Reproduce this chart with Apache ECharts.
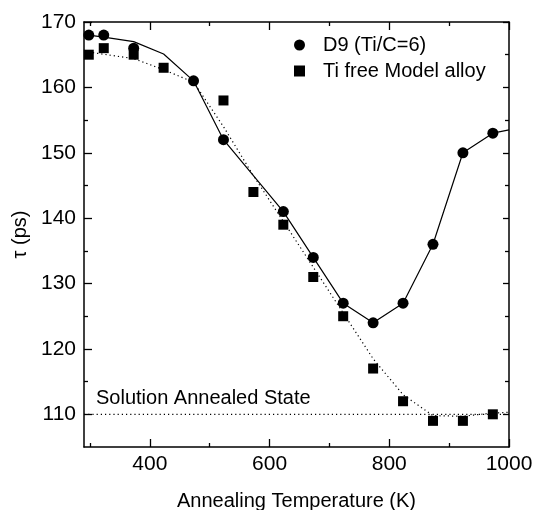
<!DOCTYPE html>
<html>
<head>
<meta charset="utf-8">
<script src="https://cdn.jsdelivr.net/npm/echarts@6/dist/echarts.min.js"></script>
<style>
  html, body { margin: 0; padding: 0; background: #fff; }
  #chart { width: 534px; height: 510px; }
</style>
</head>
<body>
<div id="chart"></div>
<script>
// measured points
var d9Temp = [298, 323, 373, 473, 523, 623, 673, 723, 773, 823, 873, 923, 973];
var d9Tau = [168, 168, 166, 161, 152, 141, 134, 127, 124, 127, 136, 150, 153];
var tiTemp = [298, 323, 373, 423, 523, 573, 623, 673, 723, 773, 823, 873, 923, 973];
var tiTau = [165, 166, 165, 163, 158, 144, 139, 131, 125, 117, 112, 109, 109, 110];
// guide curves drawn through the data
var d9CurveTemp = [298, 323, 373, 423, 473, 523, 623, 673, 723, 773, 823, 873, 923, 973, 1000];
var d9CurveTau = [168, 167.7, 167, 165.1, 161, 152, 141, 134, 127, 124, 127, 136, 150, 153, 153.5];
var tiCurveTemp = [298, 373, 423, 473, 523, 573, 623, 673, 723, 773, 823, 873, 923, 973, 1000];
var tiCurveTau = [165.4, 164.4, 162.7, 160.8, 154, 146.5, 139.5, 132.5, 125.5, 118.5, 113, 109.8, 109.7, 110.2, 110.3];
// solution annealed level
var saTemp = [290, 1000];
var saTau = [110, 110];
// ticks
var xMajor = [400, 600, 800, 1000];
var xMinor = [300, 500, 700, 900];
var yMajor = [110, 120, 130, 140, 150, 160, 170];
var yMinor = [115, 125, 135, 145, 155, 165];

var font = 'Liberation Sans, Arial, sans-serif';

function pairs(xs, ys) {
    return xs.map(function (x, i) { return [x, ys[i]]; });
}

function xAx(pos, ticks, len, show) {
    return {
        type: 'value', min: 290, max: 1000, position: pos,
        axisLine: { show: show, onZero: false, lineStyle: { color: '#000', width: 1.5 } },
        splitLine: { show: false },
        axisTick: { inside: true, length: len, customValues: ticks, lineStyle: { color: '#000', width: 1.3 } },
        axisLabel: { show: false }
    };
}

function yAx(pos, ticks, len, show) {
    return {
        type: 'value', min: 105, max: 170, position: pos,
        axisLine: { show: show, onZero: false, lineStyle: { color: '#000', width: 1.5 } },
        splitLine: { show: false },
        axisTick: { inside: true, length: len, customValues: ticks, lineStyle: { color: '#000', width: 1.3 } },
        axisLabel: { show: false }
    };
}

var xBottom = xAx('bottom', xMajor, 8, true);
xBottom.axisLabel = {
    show: true, customValues: xMajor, fontSize: 21, color: '#000', fontFamily: font, margin: 7,
    formatter: function (v) { return String(v); }
};
xBottom.name = 'Annealing Temperature (K)';
xBottom.nameLocation = 'middle';
xBottom.nameGap = 44;
xBottom.nameTextStyle = { fontSize: 20, color: '#000', fontFamily: font };

var yLeft = yAx('left', yMajor, 8, true);
yLeft.axisLabel = { show: true, customValues: yMajor, fontSize: 21, color: '#000', fontFamily: font, margin: 8 };
yLeft.name = 'τ (ps)';
yLeft.nameLocation = 'middle';
yLeft.nameGap = 46;
yLeft.nameTextStyle = { fontSize: 20, color: '#000', fontFamily: font };

var option = {
    animation: false,
    backgroundColor: '#fff',
    grid: { left: 84, right: 25, top: 22, bottom: 63, containLabel: false, outerBoundsMode: 'none' },
    xAxis: [
        xBottom,
        xAx('bottom', xMinor, 4, false),
        xAx('top', xMajor, 8, true),
        xAx('top', xMinor, 4, false)
    ],
    yAxis: [
        yLeft,
        yAx('left', yMinor, 4, false),
        yAx('right', yMajor, 6, true),
        yAx('right', yMinor, 4, false)
    ],
    legend: {
        orient: 'vertical', left: 289, top: 30,
        itemWidth: 11, itemHeight: 11, itemGap: 6,
        textStyle: { fontSize: 20, color: '#000', fontFamily: font, padding: [0, 0, 0, 13] },
        data: [
            { name: 'D9 (Ti/C=6)', icon: 'circle' },
            { name: 'Ti free Model alloy', icon: 'rect', itemStyle: { color: '#000' } }
        ]
    },
    graphic: [{
        type: 'text', left: 96, top: 388,
        style: { text: 'Solution Annealed State', fontSize: 20, fontFamily: font, fill: '#000' }
    }],
    series: [
        {
            type: 'line', data: pairs(saTemp, saTau), symbol: 'none', silent: true,
            lineStyle: { color: '#000', width: 1.2, type: [1.2, 3] }
        },
        {
            type: 'line', data: pairs(d9CurveTemp, d9CurveTau), symbol: 'none', silent: true,
            lineStyle: { color: '#000', width: 1.2 }
        },
        {
            type: 'line', data: pairs(tiCurveTemp, tiCurveTau), symbol: 'none', silent: true,
            lineStyle: { color: '#000', width: 1.2, type: [1.2, 3] }
        },
        {
            name: 'D9 (Ti/C=6)', type: 'scatter', data: pairs(d9Temp, d9Tau),
            symbol: 'circle', symbolSize: 11, itemStyle: { color: '#000', opacity: 1 }
        },
        {
            name: 'Ti free Model alloy', type: 'scatter', data: pairs(tiTemp, tiTau),
            symbol: 'rect', symbolSize: 10, itemStyle: { color: '#000', opacity: 1 }
        }
    ]
};

var chart = echarts.init(document.getElementById('chart'));
chart.setOption(option);
</script>
</body>
</html>
